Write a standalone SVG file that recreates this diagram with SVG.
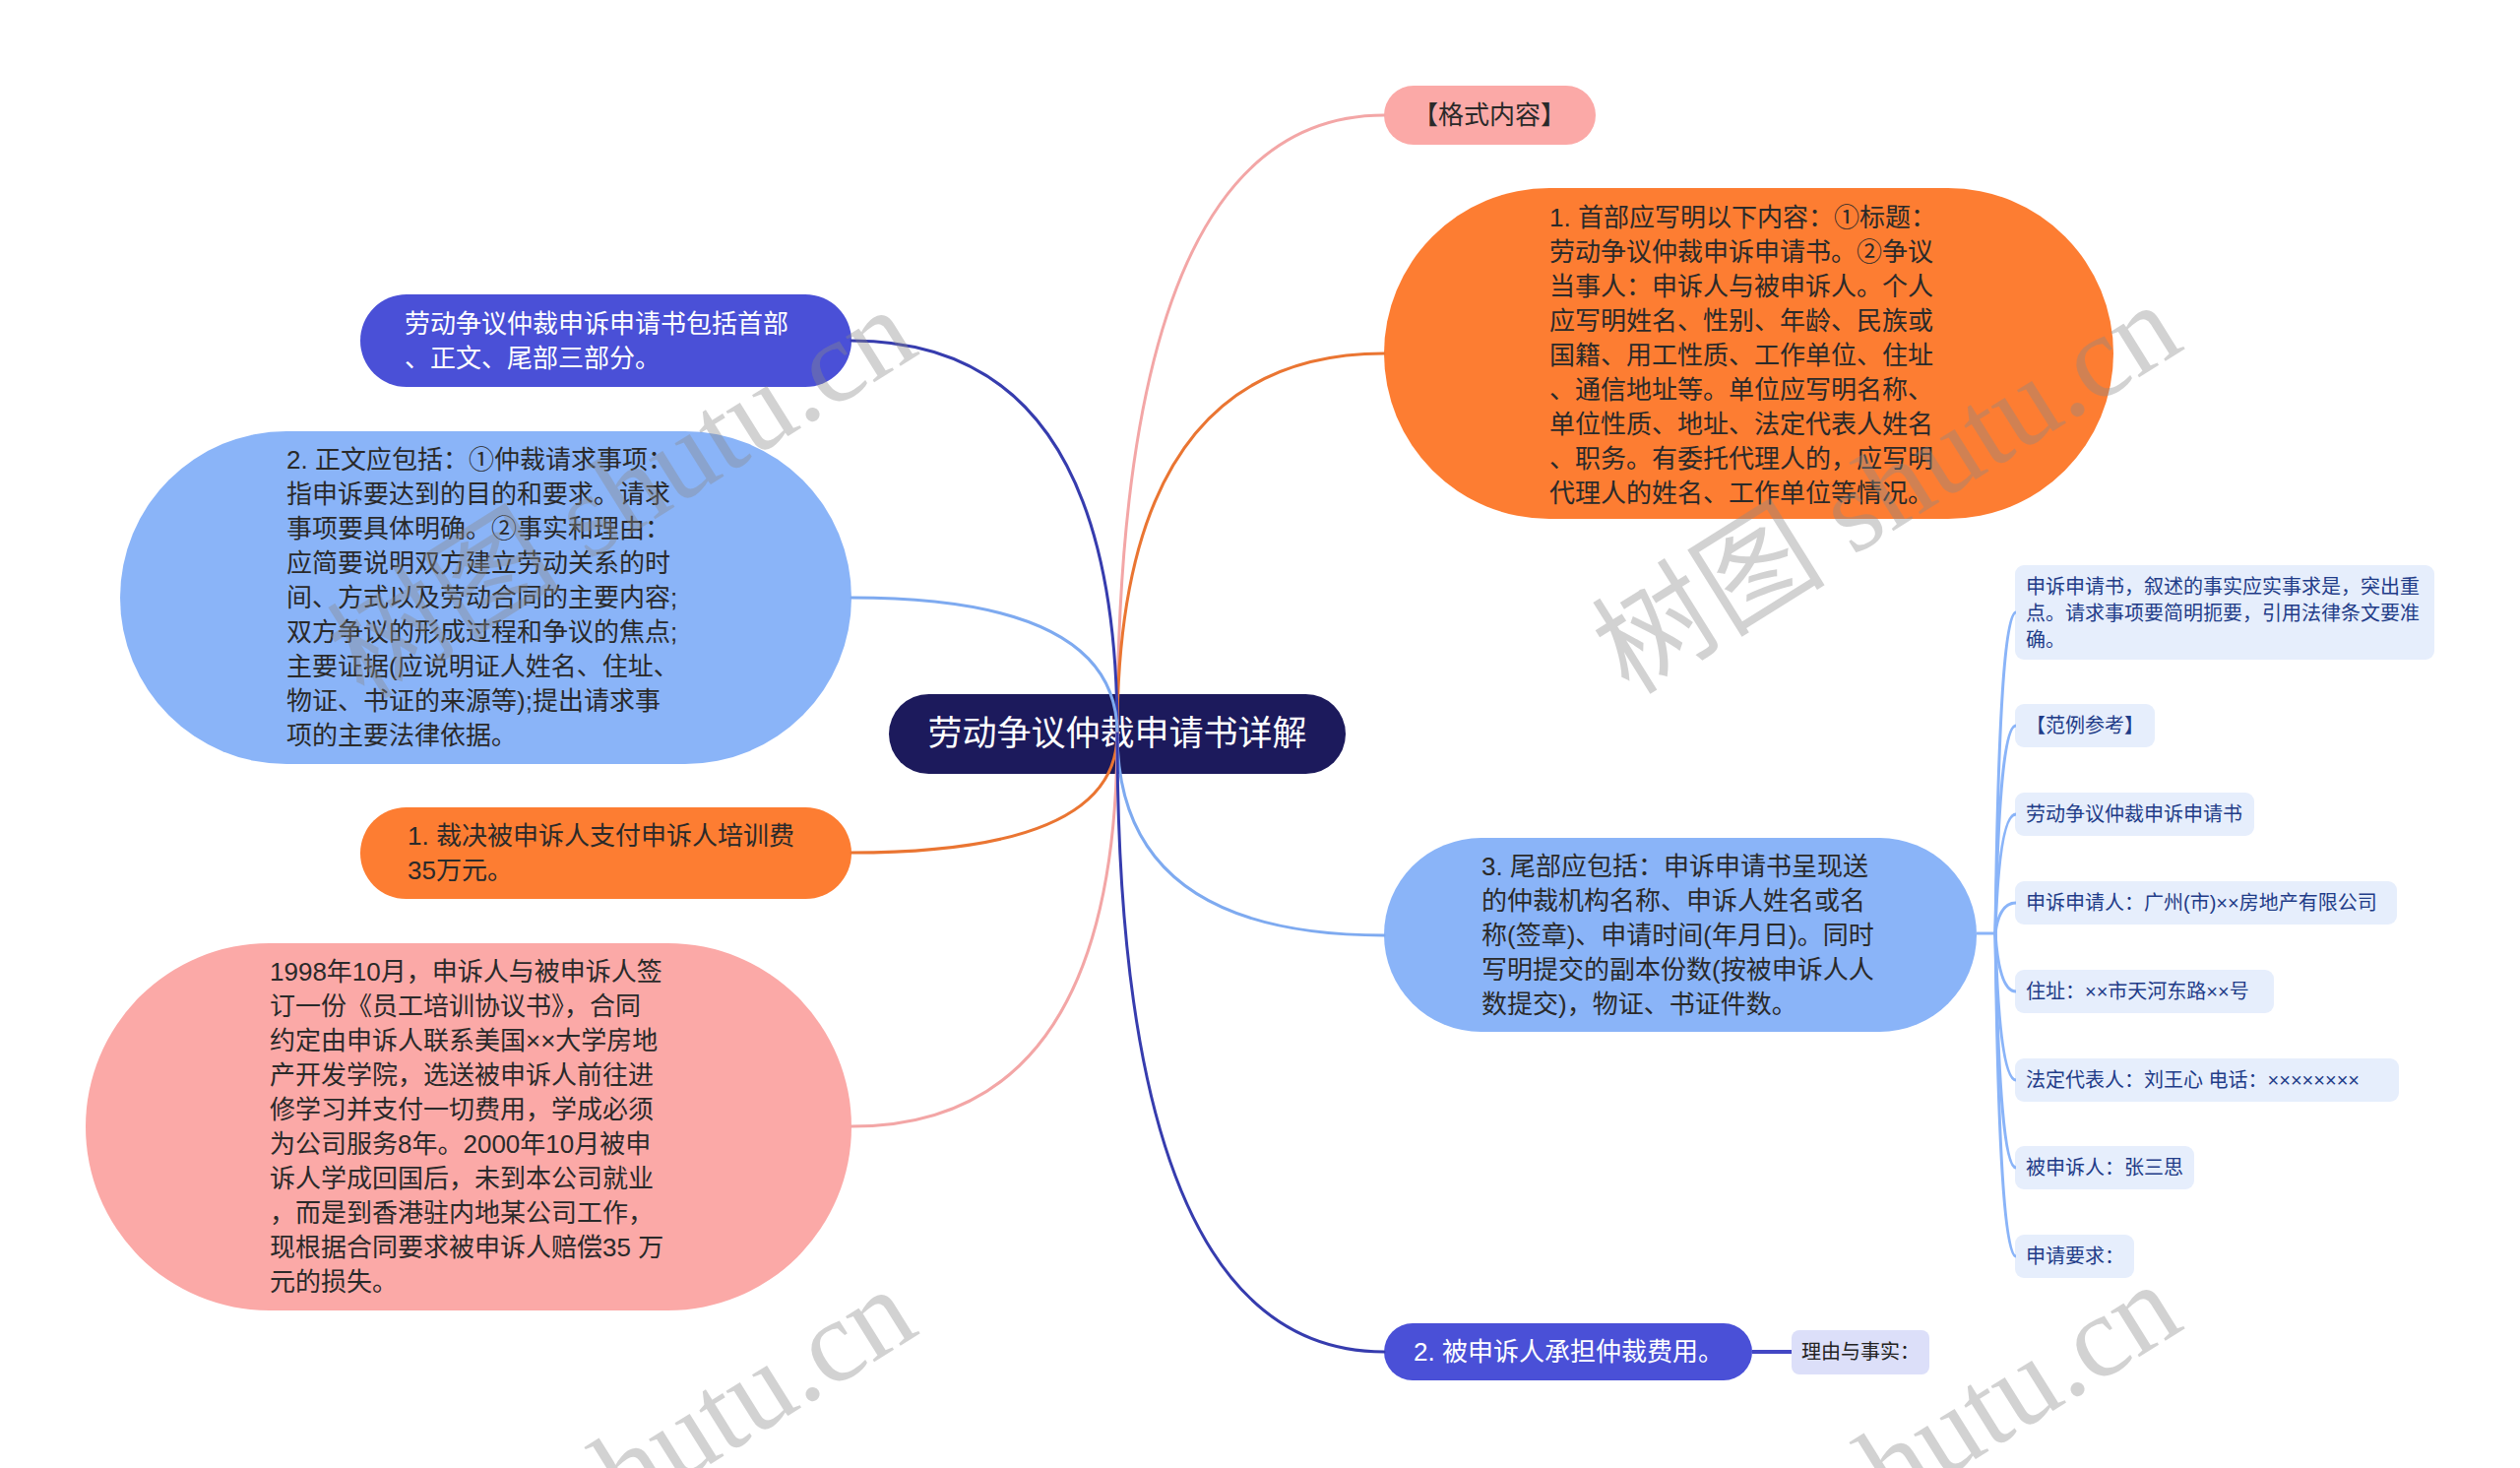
<svg xmlns="http://www.w3.org/2000/svg" width="2560" height="1491" viewBox="0 0 2560 1491">
<style>
text{font-family:"Liberation Sans","Noto Sans CJK SC",sans-serif;}
.t26{font-size:26px;fill:#2a2a2a;}
.w26{font-size:26px;fill:#ffffff;}
.t20{font-size:20px;fill:#1f3c88;}
.r20{font-size:20px;fill:#222222;}
.root{font-size:35px;fill:#ffffff;}
.c{fill:none;stroke-width:3;stroke-linecap:round;}
.cPink{stroke:#f3a6a6;}
.cOrange{stroke:#ea7532;}
.cDark{stroke:#363cae;}
.cLight{stroke:#7eaaf0;}
.cBr{fill:none;stroke:#8ab4f8;stroke-width:3;}
.small{fill:#e6eefc;}
.wm{font-family:"Liberation Serif","Noto Sans CJK SC",serif;font-size:119px;fill:#8a8a8a;opacity:0.38;}
</style>
<rect x="0" y="0" width="2560" height="1491" fill="#ffffff"/>

<g id="root">
<rect x="903" y="705" width="464" height="81" rx="40.5" fill="#1c1a5c"/>
<text class="root" x="1135" y="757" text-anchor="middle">劳动争议仲裁申请书详解</text>
</g>

<g id="n-format">
<rect x="1406" y="87" width="215" height="60" rx="30" fill="#fba9a7"/>
<text class="t26" x="1513" y="126" text-anchor="middle">【格式内容】</text>
</g>

<g id="n-head">
<rect x="1406" y="191" width="741" height="336" rx="168" fill="#fd7d32"/>
<text class="t26">
<tspan x="1574" y="230">1. 首部应写明以下内容：①标题：</tspan>
<tspan x="1574" y="265">劳动争议仲裁申诉申请书。②争议</tspan>
<tspan x="1574" y="300">当事人：申诉人与被申诉人。个人</tspan>
<tspan x="1574" y="335">应写明姓名、性别、年龄、民族或</tspan>
<tspan x="1574" y="370">国籍、用工性质、工作单位、住址</tspan>
<tspan x="1574" y="405">、通信地址等。单位应写明名称、</tspan>
<tspan x="1574" y="440">单位性质、地址、法定代表人姓名</tspan>
<tspan x="1574" y="475">、职务。有委托代理人的，应写明</tspan>
<tspan x="1574" y="510">代理人的姓名、工作单位等情况。</tspan>
</text>
</g>

<g id="n-parts">
<rect x="366" y="299" width="499" height="94" rx="47" fill="#4a50d7"/>
<text class="w26">
<tspan x="411" y="338">劳动争议仲裁申诉申请书包括首部</tspan>
<tspan x="411" y="373">、正文、尾部三部分。</tspan>
</text>
</g>

<g id="n-body">
<rect x="122" y="438" width="743" height="338" rx="169" fill="#8ab4f8"/>
<text class="t26">
<tspan x="291" y="476">2. 正文应包括：①仲裁请求事项：</tspan>
<tspan x="291" y="511">指申诉要达到的目的和要求。请求</tspan>
<tspan x="291" y="546">事项要具体明确。②事实和理由：</tspan>
<tspan x="291" y="581">应简要说明双方建立劳动关系的时</tspan>
<tspan x="291" y="616">间、方式以及劳动合同的主要内容;</tspan>
<tspan x="291" y="651">双方争议的形成过程和争议的焦点;</tspan>
<tspan x="291" y="686">主要证据(应说明证人姓名、住址、</tspan>
<tspan x="291" y="721">物证、书证的来源等);提出请求事</tspan>
<tspan x="291" y="756">项的主要法律依据。</tspan>
</text>
</g>

<g id="n-claim1">
<rect x="366" y="820" width="499" height="93" rx="46.5" fill="#fd7d32"/>
<text class="t26">
<tspan x="414" y="858">1. 裁决被申诉人支付申诉人培训费</tspan>
<tspan x="414" y="893">35万元。</tspan>
</text>
</g>

<g id="n-facts">
<rect x="87" y="958" width="778" height="373" rx="186.5" fill="#fba9a7"/>
<text class="t26">
<tspan x="274" y="996">1998年10月，申诉人与被申诉人签</tspan>
<tspan x="274" y="1031">订一份《员工培训协议书》，合同</tspan>
<tspan x="274" y="1066">约定由申诉人联系美国××大学房地</tspan>
<tspan x="274" y="1101">产开发学院，选送被申诉人前往进</tspan>
<tspan x="274" y="1136">修学习并支付一切费用，学成必须</tspan>
<tspan x="274" y="1171">为公司服务8年。2000年10月被申</tspan>
<tspan x="274" y="1206">诉人学成回国后，未到本公司就业</tspan>
<tspan x="274" y="1241">，而是到香港驻内地某公司工作，</tspan>
<tspan x="274" y="1276">现根据合同要求被申诉人赔偿35 万</tspan>
<tspan x="274" y="1311">元的损失。</tspan>
</text>
</g>

<g id="n-tail">
<rect x="1406" y="851" width="602" height="197" rx="98.5" fill="#8ab4f8"/>
<text class="t26">
<tspan x="1505" y="889">3. 尾部应包括：申诉申请书呈现送</tspan>
<tspan x="1505" y="924">的仲裁机构名称、申诉人姓名或名</tspan>
<tspan x="1505" y="959">称(签章)、申请时间(年月日)。同时</tspan>
<tspan x="1505" y="994">写明提交的副本份数(按被申诉人人</tspan>
<tspan x="1505" y="1029">数提交)，物证、书证件数。</tspan>
</text>
</g>

<g id="n-claim2">
<rect x="1406" y="1344" width="374" height="58" rx="29" fill="#4a50d7"/>
<text class="w26" x="1436" y="1382">2. 被申诉人承担仲裁费用。</text>
</g>

<g id="n-reason">
<rect x="1820" y="1351" width="140" height="45" rx="8" fill="#dcdff9"/>
<text class="r20" x="1830" y="1380">理由与事实：</text>
</g>

<g id="n-s1">
<rect class="small" x="2047" y="574" width="426" height="96" rx="9"/>
<text class="t20">
<tspan x="2058" y="603">申诉申请书，叙述的事实应实事求是，突出重</tspan>
<tspan x="2058" y="630">点。请求事项要简明扼要，引用法律条文要准</tspan>
<tspan x="2058" y="657">确。</tspan>
</text>
</g>
<g id="n-s2">
<rect class="small" x="2047" y="715" width="142" height="44" rx="9"/>
<text class="t20" x="2058" y="744">【范例参考】</text>
</g>
<g id="n-s3">
<rect class="small" x="2047" y="805" width="243" height="44" rx="9"/>
<text class="t20" x="2058" y="834">劳动争议仲裁申诉申请书</text>
</g>
<g id="n-s4">
<rect class="small" x="2047" y="895" width="388" height="44" rx="9"/>
<text class="t20" x="2058" y="924">申诉申请人：广州(市)××房地产有限公司</text>
</g>
<g id="n-s5">
<rect class="small" x="2047" y="985" width="263" height="44" rx="9"/>
<text class="t20" x="2058" y="1014">住址：××市天河东路××号</text>
</g>
<g id="n-s6">
<rect class="small" x="2047" y="1075" width="390" height="44" rx="9"/>
<text class="t20" x="2058" y="1104">法定代表人：刘王心 电话：××××××××</text>
</g>
<g id="n-s7">
<rect class="small" x="2047" y="1164" width="182" height="44" rx="9"/>
<text class="t20" x="2058" y="1193">被申诉人：张三思</text>
</g>
<g id="n-s8">
<rect class="small" x="2047" y="1254" width="121" height="44" rx="9"/>
<text class="t20" x="2058" y="1283">申请要求：</text>
</g>

<g id="connectors">
<path class="c cPink" d="M1135,745 Q1135,117 1406,117"/>
<path class="c cOrange" d="M1135,745 Q1135,359 1406,359"/>
<path class="c cDark" d="M1135,745 Q1135,346 865,346"/>
<path class="c cLight" d="M1135,745 Q1135,607 865,607"/>
<path class="c cOrange" d="M1135,745 Q1135,866 865,866"/>
<path class="c cPink" d="M1135,745 Q1135,1144 865,1144"/>
<path class="c cLight" d="M1135,745 Q1135,950 1406,950"/>
<path class="c cDark" d="M1135,745 Q1135,1373 1406,1373"/>
<path d="M1780,1373 L1820,1373" stroke="#4347c4" stroke-width="4" fill="none"/>
<path class="cBr" d="M2008,948 L2027,948"/>
<path class="cBr" d="M2027,948 Q2031,622 2048,622"/>
<path class="cBr" d="M2027,948 Q2031,737 2048,737"/>
<path class="cBr" d="M2027,948 Q2031,827 2048,827"/>
<path class="cBr" d="M2027,948 Q2031,917 2048,917"/>
<path class="cBr" d="M2027,948 Q2031,1007 2048,1007"/>
<path class="cBr" d="M2027,948 Q2031,1097 2048,1097"/>
<path class="cBr" d="M2027,948 Q2031,1186 2048,1186"/>
<path class="cBr" d="M2027,948 Q2031,1276 2048,1276"/>
</g>

<g id="watermark">
<text class="wm" transform="translate(370,712) rotate(-32)">树图 shutu.cn</text>
<text class="wm" transform="translate(1655,707) rotate(-32)">树图 shutu.cn</text>
<text class="wm" transform="translate(370,1707) rotate(-32)">树图 shutu.cn</text>
<text class="wm" transform="translate(1655,1702) rotate(-32)">树图 shutu.cn</text>
</g>
</svg>
